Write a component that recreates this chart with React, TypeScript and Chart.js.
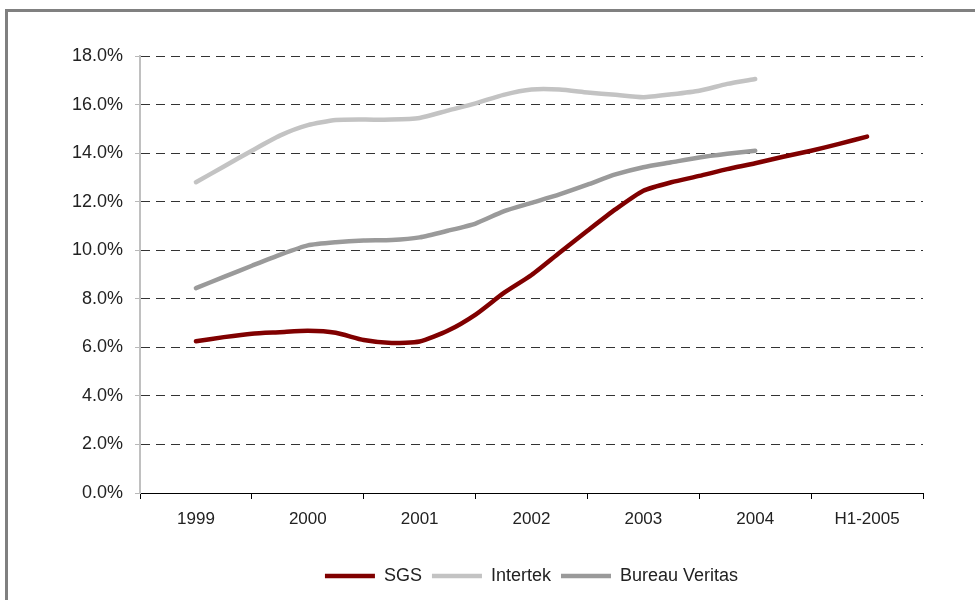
import React, { useEffect, useRef } from "react";
import { Chart, registerables } from "chart.js";

Chart.register(...registerables);

// Category labels along the bottom axis
const YEARS = ["1999", "2000", "2001", "2002", "2003", "2004", "H1-2005"];

// Quarterly observations, starting at 1999; one point every quarter of a year-slot
const QUARTER_STEP = 0.25;

const SGS = [
  6.25, 6.42, 6.56, 6.62, 6.68, 6.6, 6.3, 6.18, 6.24, 6.68, 7.35, 8.23, 8.98,
  9.9, 10.8, 11.68, 12.45, 12.8, 13.06, 13.34, 13.58, 13.85, 14.1, 14.38, 14.68,
];

const INTERTEK = [
  12.8, 13.45, 14.1, 14.72, 15.15, 15.36, 15.38, 15.38, 15.45, 15.75, 16.05,
  16.4, 16.62, 16.62, 16.5, 16.4, 16.3, 16.42, 16.57, 16.85, 17.05,
];

const BUREAU_VERITAS = [
  8.44, 8.9, 9.36, 9.81, 10.2, 10.33, 10.4, 10.42, 10.53, 10.8, 11.1, 11.6,
  11.95, 12.3, 12.7, 13.12, 13.42, 13.62, 13.82, 13.97, 14.1,
];

const Y_MIN = 0;
const Y_MAX = 18;
const Y_STEP = 2;

const toPoints = (values: number[]) =>
  values.map((y, i) => ({ x: i * QUARTER_STEP, y }));

export default function App() {
  const canvasRef = useRef<HTMLCanvasElement | null>(null);

  useEffect(() => {
    const canvas = canvasRef.current;
    if (!canvas) return;

    const lineStyle = {
      borderWidth: 4.5,
      pointRadius: 0,
      pointHoverRadius: 0,
      tension: 0.2,
      fill: false,
      borderCapStyle: "round" as const,
      borderJoinStyle: "round" as const,
      xAxisID: "xq",
    };

    const chart = new Chart(canvas, {
      type: "line",
      data: {
        labels: YEARS,
        datasets: [
          { label: "SGS", data: toPoints(SGS), borderColor: "#800000", backgroundColor: "#800000", ...lineStyle },
          { label: "Intertek", data: toPoints(INTERTEK), borderColor: "#c3c3c3", backgroundColor: "#c3c3c3", ...lineStyle },
          { label: "Bureau Veritas", data: toPoints(BUREAU_VERITAS), borderColor: "#9a9a9a", backgroundColor: "#9a9a9a", ...lineStyle },
        ],
      },
      options: {
        responsive: false,
        animation: false,
        devicePixelRatio: 1,
        layout: { padding: { left: 0, right: 52, top: 56, bottom: 5 } },
        plugins: {
          tooltip: { enabled: false },
          legend: {
            position: "bottom",
            fullSize: false,
            labels: {
              usePointStyle: true,
              pointStyle: "line",
              pointStyleWidth: 50,
              padding: 10,
              color: "#222",
              font: { family: "'Liberation Sans', Arial, sans-serif", size: 18 },
            },
          },
        },
        scales: {
          x: {
            type: "category",
            offset: true,
            grid: {
              offset: true,
              drawOnChartArea: false,
              tickLength: 6,
              tickColor: "#000",
              color: "#000",
            },
            border: { color: "#000", width: 1 },
            ticks: {
              padding: 10,
              color: "#222",
              font: { family: "'Liberation Sans Narrow', 'Liberation Sans', Arial, sans-serif", size: 17 },
              maxRotation: 0,
            },
            afterFit: (scale: any) => {
              scale.height = 64;
            },
          },
          xq: {
            type: "linear",
            display: false,
            min: -0.5,
            max: YEARS.length - 0.5,
          },
          y: {
            min: Y_MIN,
            max: Y_MAX,
            ticks: {
              stepSize: Y_STEP,
              padding: 12,
              color: "#222",
              font: { family: "'Liberation Sans', Arial, sans-serif", size: 18 },
              callback: (v: any) => Number(v).toFixed(1) + "%",
            },
            grid: {
              color: "#333333",
              lineWidth: 1,
              tickLength: 5,
              tickColor: "#b8b8b8",
              tickBorderDash: [],
            },
            border: { color: "#c0c0c0", width: 2, dash: [9, 6] },
            afterFit: (scale: any) => {
              scale.width = 140;
            },
          },
        },
      },
    });

    return () => chart.destroy();
  }, []);

  return (
    <div style={{ position: "fixed", left: 0, top: 0, width: 975, height: 600, background: "#fff", overflow: "hidden" }}>
      <div
        style={{
          position: "absolute",
          left: 5,
          top: 9,
          width: 1000,
          height: 620,
          borderTop: "3px solid #808080",
          borderLeft: "3px solid #808080",
        }}
      />
      <canvas ref={canvasRef} width={975} height={600} style={{ position: "absolute", left: 0, top: 0 }} />
    </div>
  );
}
